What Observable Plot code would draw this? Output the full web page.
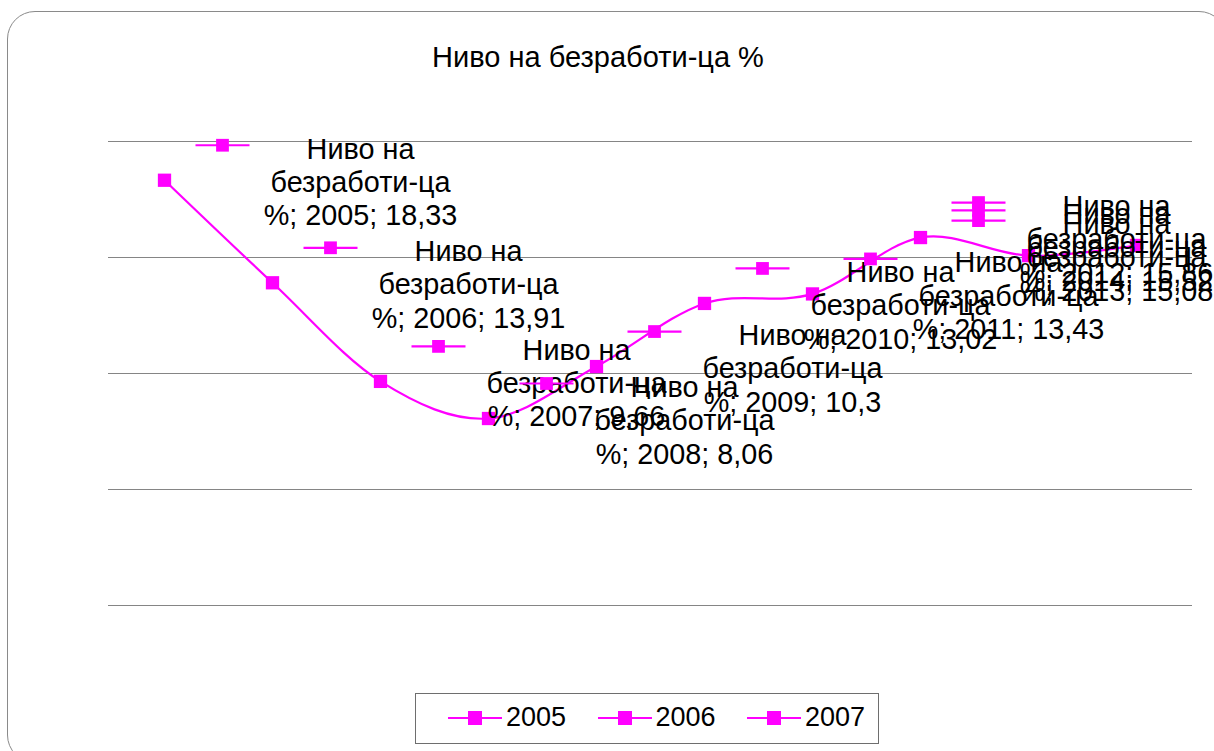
<!DOCTYPE html>
<html>
<head>
<meta charset="utf-8">
<script src="https://cdn.jsdelivr.net/npm/d3@7"></script>
<script src="https://cdn.jsdelivr.net/npm/@observablehq/plot@0.6"></script>
<style>
  body { margin: 0; background: #fff; font-family: "Liberation Sans", Arial, sans-serif; overflow: hidden; }
  #wrap { position: relative; width: 1214px; height: 751px; overflow: hidden; background: #fff; }
  #chart { position: absolute; left: 0; top: 0; }
  #frame { position: absolute; left: 7px; top: 11px; width: 1220px; height: 752px; border: 1.5px solid #8a8a8a; border-radius: 28px; box-sizing: border-box; pointer-events: none; }
  #title { position: absolute; left: 0; width: 1196px; top: 41px; text-align: center; font-size: 29px; color: #000; white-space: nowrap; }
  #legend { position: absolute; left: 415px; top: 693px; width: 464px; height: 51px; border: 1.5px solid #6e6e6e; box-sizing: border-box; background: #fff; }
  #legend .item { position: absolute; top: 0; height: 48px; }
  #legend .item svg { position: absolute; left: 0; top: 14px; }
  #legend .item span { position: absolute; top: 8px; font-size: 27px; line-height: 31px; color: #000; white-space: nowrap; }
</style>
</head>
<body>
<div id="wrap">
  <div id="chart"></div>
  <div id="title"></div>
  <div id="legend"></div>
  <div id="frame"></div>
</div>
<script>
// ---- data ----
const chartTitle = "Ниво на безработи-ца %";
const years = ["2005", "2006", "2007", "2008", "2009", "2010", "2011", "2012", "2013", "2014"];
const rates = [18.33, 13.91, 9.66, 8.06, 10.3, 13.02, 13.43, 15.86, 15.08, 15.52];
const gridValues = [0, 5, 10, 15, 20];
const labelHead = "Ниво на\nбезработи-ца\n%";
const lastLabelYear = "2012"; // labels of later years are pushed back to this column
const legendNames = ["2005", "2006", "2007"];
const seriesColor = "#ff00ff";

const fmt = v => String(v).replace(".", ",");
const data = years.map((y, i) => ({
  year: y,
  value: rates[i],
  labelYear: +y > +lastLabelYear ? lastLabelYear : y,
  text: `${labelHead}; ${y}; ${fmt(rates[i])}`
}));

// legend key used next to each data label: a horizontal line
const keyLine = {
  draw(context, size) {
    const r = Math.sqrt(size / Math.PI);
    context.moveTo(-3.6 * r, 0);
    context.lineTo(3.6 * r, 0);
  }
};

const H = 680;
const chart = Plot.plot({
  width: 1214,
  height: H,
  marginLeft: 108,
  marginRight: 22,
  marginTop: 141,
  marginBottom: H - 605,
  style: { background: "transparent", fontFamily: "'Liberation Sans', Arial, sans-serif", overflow: "visible" },
  x: { type: "point", domain: years, padding: 0.5, axis: null },
  y: { domain: [0, 20], axis: null },
  marks: [
    Plot.ruleY(gridValues, { stroke: "#858585", strokeWidth: 1 }),
    Plot.line(data, { x: "year", y: "value", curve: "cardinal", stroke: seriesColor, strokeWidth: 2.2 }),
    Plot.dot(data, { x: "year", y: "value", symbol: "square", r: 7.5, fill: seriesColor, stroke: null }),
    Plot.text(data, {
      x: "labelYear", y: "value", text: "text", dx: 196, dy: 1,
      fontSize: 28.8, lineHeight: 1.16, textAnchor: "middle", lineAnchor: "middle",
      fill: "#000", fontFamily: "'Liberation Sans', Arial, sans-serif"
    }),
    Plot.dot(data, { x: "labelYear", y: "value", dx: 58, dy: -35, symbol: keyLine, r: 7.5, stroke: seriesColor, strokeWidth: 2.2, fill: "none" }),
    Plot.dot(data, { x: "labelYear", y: "value", dx: 58, dy: -35, symbol: "square", r: 7.2, fill: seriesColor, stroke: null })
  ]
});
document.getElementById("chart").appendChild(chart);

document.getElementById("title").textContent = chartTitle;

// legend
const leg = d3.select("#legend");
legendNames.forEach((name, i) => {
  const item = leg.append("div").attr("class", "item").style("left", (31 + i * 149.5) + "px");
  const svg = item.append("svg").attr("width", 56).attr("height", 20);
  svg.append("line").attr("x1", 1).attr("x2", 55).attr("y1", 10).attr("y2", 10)
    .attr("stroke", seriesColor).attr("stroke-width", 2.2);
  svg.append("rect").attr("x", 21).attr("y", 3).attr("width", 14).attr("height", 14).attr("fill", seriesColor);
  item.append("span").style("left", "59px").text(name);
});
</script>
</body>
</html>
